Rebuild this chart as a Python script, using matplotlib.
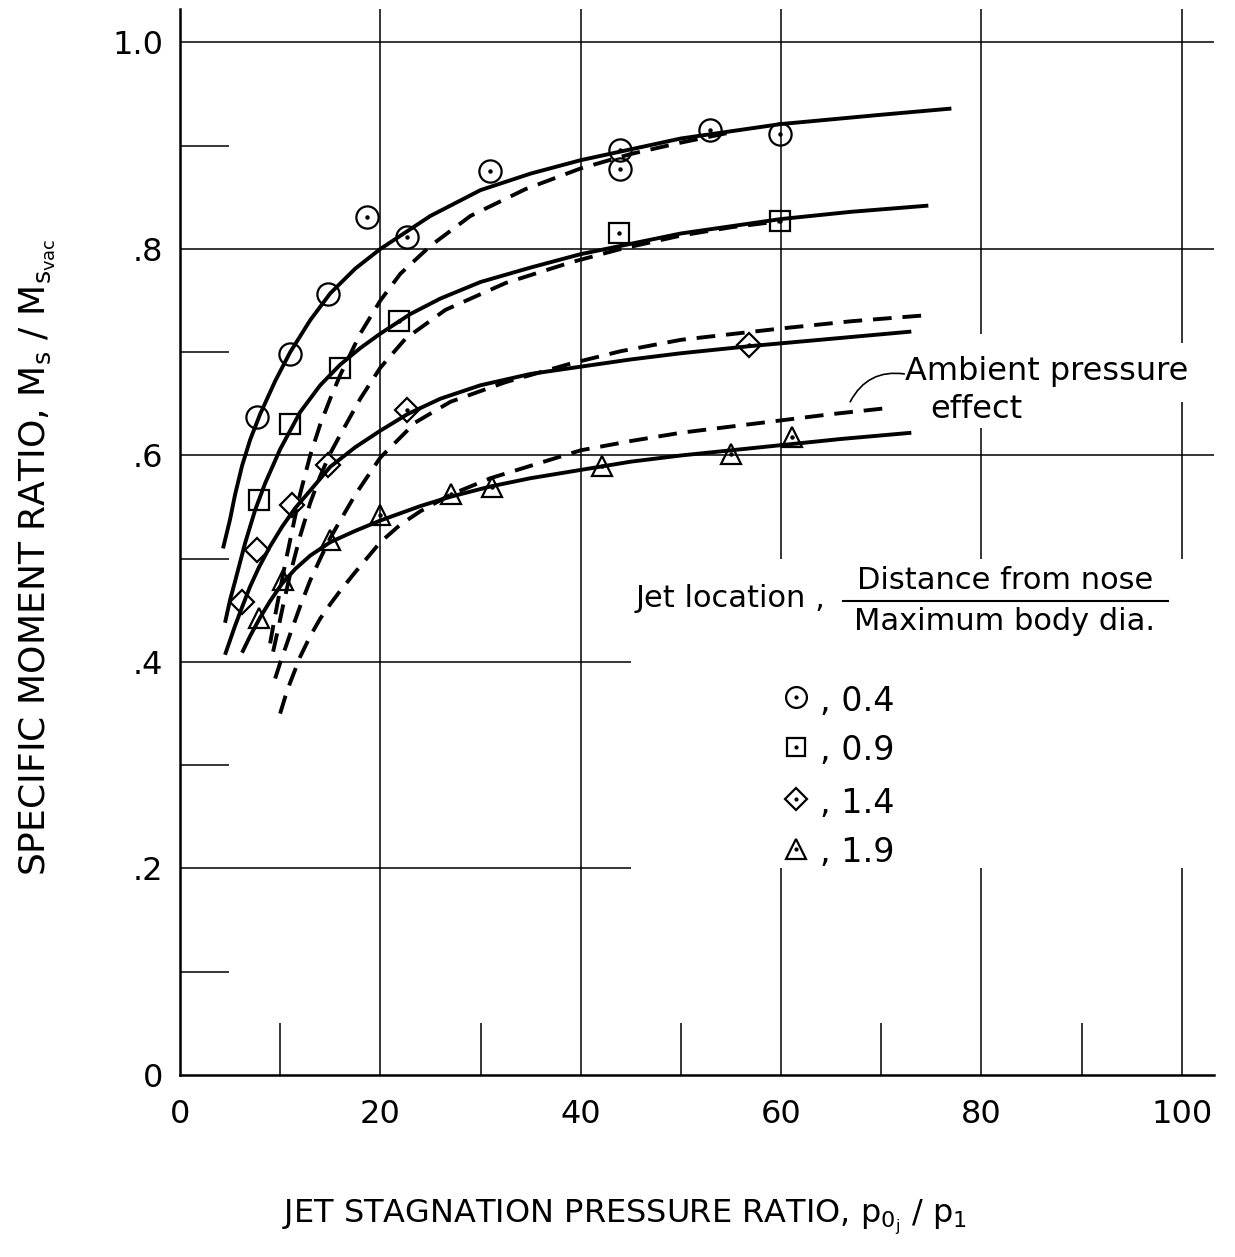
import numpy as np
import matplotlib.pyplot as plt

plt.rcParams['font.family'] = ['DejaVu Sans']
plt.rcParams['mathtext.fontset'] = 'dejavusans'

# ==========================================
# data
# ==========================================
locations = ["0.4", "0.9", "1.4", "1.9"]
marker_shapes = ["o", "s", "D", "^"]

# test points (jet stagnation pressure ratio, specific moment ratio)
pts_x_04 = [7.7, 11.0, 14.8, 18.7, 22.7, 30.9, 43.9, 43.9, 52.9, 59.9]
pts_y_04 = [0.637, 0.698, 0.756, 0.831, 0.812, 0.876, 0.896, 0.877, 0.915, 0.911]
pts_x_09 = [7.9, 11.0, 16.0, 21.9, 43.8, 59.9]
pts_y_09 = [0.557, 0.630, 0.685, 0.730, 0.815, 0.827]
pts_x_14 = [6.2, 7.7, 11.2, 14.8, 22.7, 56.8]
pts_y_14 = [0.458, 0.508, 0.552, 0.591, 0.644, 0.707]
pts_x_19 = [7.9, 10.3, 15.0, 20.0, 27.1, 31.1, 42.1, 55.0, 61.1]
pts_y_19 = [0.443, 0.479, 0.518, 0.542, 0.563, 0.569, 0.590, 0.601, 0.618]

# faired curves (solid)
fit_x_04 = [4.3, 5.0, 5.5, 6.2, 7.0, 8.0, 9.5, 11, 13, 15, 17.5, 20, 25, 30, 35, 40, 50, 60, 70, 77]
fit_y_04 = [0.510, 0.538, 0.562, 0.590, 0.615, 0.640, 0.672, 0.700, 0.731, 0.757, 0.781, 0.800,
            0.832, 0.857, 0.873, 0.886, 0.907, 0.921, 0.930, 0.936]
fit_x_09 = [4.5, 5.0, 5.5, 6.5, 7.5, 8.5, 10, 12, 14, 16, 18, 20, 23, 26, 30, 35, 40, 45, 50, 60, 67, 74.7]
fit_y_09 = [0.438, 0.460, 0.478, 0.515, 0.547, 0.573, 0.606, 0.642, 0.668, 0.688, 0.704, 0.718,
            0.737, 0.752, 0.768, 0.782, 0.795, 0.805, 0.815, 0.829, 0.836, 0.842]
fit_x_14 = [4.5, 5.5, 6.2, 7.0, 7.9, 9.0, 10.2, 11.5, 13, 15, 17.5, 20, 22.7, 26, 30, 35, 40, 45, 50, 57, 65, 73]
fit_y_14 = [0.407, 0.435, 0.453, 0.473, 0.492, 0.512, 0.531, 0.549, 0.566, 0.589, 0.608, 0.624,
            0.640, 0.655, 0.668, 0.679, 0.686, 0.693, 0.699, 0.706, 0.713, 0.720]
fit_x_19 = [6.2, 7.0, 8.0, 9.0, 10.2, 11.5, 13, 15, 17.5, 20, 24, 27, 31, 35, 40, 45, 50, 55, 60, 66, 73]
fit_y_19 = [0.409, 0.425, 0.443, 0.459, 0.476, 0.490, 0.503, 0.516, 0.527, 0.537, 0.551, 0.560,
            0.570, 0.578, 0.586, 0.594, 0.600, 0.605, 0.610, 0.616, 0.622]

# ambient pressure effect (dashed)
amb_x_04 = [9.0, 9.5, 10, 10.5, 11, 11.5, 12, 13, 14, 15, 16, 18, 20, 22, 25, 29, 34.5, 40, 45, 50, 55]
amb_y_04 = [0.418, 0.445, 0.470, 0.495, 0.518, 0.541, 0.563, 0.600, 0.630, 0.655, 0.678, 0.718,
            0.750, 0.776, 0.803, 0.832, 0.858, 0.878, 0.892, 0.903, 0.913]
amb_x_09 = [9.3, 9.8, 10.3, 11, 12, 13, 14, 15, 16, 18, 20, 22.5, 26.5, 32.5, 39, 44, 50, 55, 60]
amb_y_09 = [0.410, 0.432, 0.455, 0.485, 0.522, 0.554, 0.580, 0.602, 0.620, 0.655, 0.685, 0.713,
            0.741, 0.767, 0.787, 0.800, 0.813, 0.821, 0.827]
amb_x_14 = [9.5, 10, 10.5, 11, 12, 13, 14, 15, 16, 17.5, 20, 23.5, 27, 32.5, 39, 44, 50, 60, 67, 74.7]
amb_y_14 = [0.384, 0.399, 0.413, 0.427, 0.454, 0.479, 0.500, 0.520, 0.537, 0.562, 0.598, 0.632,
            0.652, 0.671, 0.689, 0.701, 0.712, 0.723, 0.730, 0.736]
amb_x_19 = [10, 10.5, 11, 12, 13, 14, 15, 16, 17.5, 20, 22, 24, 27, 31, 35, 40, 45, 50, 55, 60, 65, 70.7]
amb_y_19 = [0.350, 0.366, 0.380, 0.405, 0.425, 0.442, 0.456, 0.469, 0.487, 0.516, 0.533, 0.546,
            0.562, 0.578, 0.590, 0.605, 0.614, 0.622, 0.628, 0.634, 0.640, 0.646]

x_ticks = [0, 20, 40, 60, 80, 100]
y_ticks = [0, 0.2, 0.4, 0.6, 0.8, 1.0]
y_tick_labels = ["0", ".2", ".4", ".6", ".8", "1.0"]

# ==========================================
# figure
# ==========================================
fig = plt.figure(figsize=(12.35, 12.57), dpi=100)
ax = fig.add_axes([0.1457, 0.1448, 0.8372, 0.8477])
ax.set_xlim(0, 103.2)
ax.set_ylim(0, 1.032)

for s in ["top", "right"]:
    ax.spines[s].set_visible(False)
for s in ["left", "bottom"]:
    ax.spines[s].set_linewidth(1.8)

# broken grid, as in the original drawing
glw = 1.1
ax.vlines([20, 40], 0, 1.032, color="black", lw=glw)
ax.vlines([60, 80, 100], 0, 0.2, color="black", lw=glw)
ax.vlines(60, 0.5, 1.032, color="black", lw=glw)
ax.vlines(80, 0.5, 0.627, color="black", lw=glw)
ax.vlines(80, 0.718, 1.032, color="black", lw=glw)
ax.vlines(100, 0.5, 0.652, color="black", lw=glw)
ax.vlines(100, 0.709, 1.032, color="black", lw=glw)
ax.hlines([0.6, 0.8, 1.0], 0, 103.2, color="black", lw=glw)
ax.hlines([0.2, 0.4], 0, 45, color="black", lw=glw)
ax.hlines([0.1, 0.3, 0.5, 0.7, 0.9], 0, 4.9, color="black", lw=glw)
ax.vlines([10, 30, 50, 70, 90], 0, 0.05, color="black", lw=glw)

ax.set_xticks(x_ticks)
ax.set_yticks(y_ticks)
ax.set_yticklabels(y_tick_labels)
ax.tick_params(axis="x", length=0, pad=17, labelsize=23)
ax.tick_params(axis="y", length=0, pad=12, labelsize=23)

# curves
lw = 2.8
fits = [(fit_x_04, fit_y_04), (fit_x_09, fit_y_09), (fit_x_14, fit_y_14), (fit_x_19, fit_y_19)]
ambs = [(amb_x_04, amb_y_04), (amb_x_09, amb_y_09), (amb_x_14, amb_y_14), (amb_x_19, amb_y_19)]
for fx, fy in fits:
    ax.plot(fx, fy, color="black", lw=lw, solid_capstyle="butt", solid_joinstyle="round")
for axx, ayy in ambs:
    ax.plot(axx, ayy, color="black", lw=lw, dashes=(4.8, 2.8), dash_capstyle="butt",
            dash_joinstyle="round")

# test points (centre dot shows only on the later points in the original)
pts = [(pts_x_04, pts_y_04), (pts_x_09, pts_y_09), (pts_x_14, pts_y_14), (pts_x_19, pts_y_19)]
sizes = [16, 14, 12.5, 14.5]
for (px, py), m, ms in zip(pts, marker_shapes, sizes):
    ax.plot(px, py, ls="none", marker=m, ms=ms, mfc="none", mec="black", mew=1.6, zorder=4)
    dx = [a for a in px if a > 17]
    dy = [b for a, b in zip(px, py) if a > 17]
    ax.plot(dx, dy, ls="none", marker="o", ms=2.2, color="black", zorder=5)

# ambient pressure note
ax.text(72.4, 0.681, "Ambient pressure", fontsize=23, va="center", ha="left")
ax.text(74.9, 0.645, "effect", fontsize=23, va="center", ha="left")
ax.annotate("", xy=(66.9, 0.652), xytext=(72.3, 0.679),
            arrowprops=dict(arrowstyle="-", lw=1.2, color="black",
                            connectionstyle="arc3,rad=0.35", shrinkA=0, shrinkB=0))

# key
ax.text(45.5, 0.461, "Jet location ,", fontsize=22, va="center", ha="left")
ax.text(82.4, 0.479, "Distance from nose", fontsize=22, va="center", ha="center")
ax.plot([66.2, 98.6], [0.459, 0.459], color="black", lw=1.5)
ax.text(82.3, 0.439, "Maximum body dia.", fontsize=22, va="center", ha="center")

key_y = [0.366, 0.318, 0.267, 0.219]
key_sizes = [15, 13, 11, 14]
for lab, m, ky, ms in zip(locations, marker_shapes, key_y, key_sizes):
    ax.plot([61.5], [ky], ls="none", marker=m, ms=ms, mfc="none", mec="black", mew=1.6)
    ax.plot([61.5], [ky], ls="none", marker="o", ms=2.0, color="black")
    ax.text(63.9, ky - 0.004, ", " + lab, fontsize=24, va="center", ha="left")

fig.text(0.506, 0.032, r"JET STAGNATION PRESSURE RATIO, $\mathrm{p_{0_j}}$ / $\mathrm{p_1}$",
         fontsize=23, ha="center", va="center")
fig.text(0.030, 0.557, r"SPECIFIC MOMENT RATIO, $\mathrm{M_s}$ / $\mathrm{M_{s_{vac}}}$",
         fontsize=26, ha="center", va="center", rotation=90)

fig.savefig("out.png", dpi=100)
